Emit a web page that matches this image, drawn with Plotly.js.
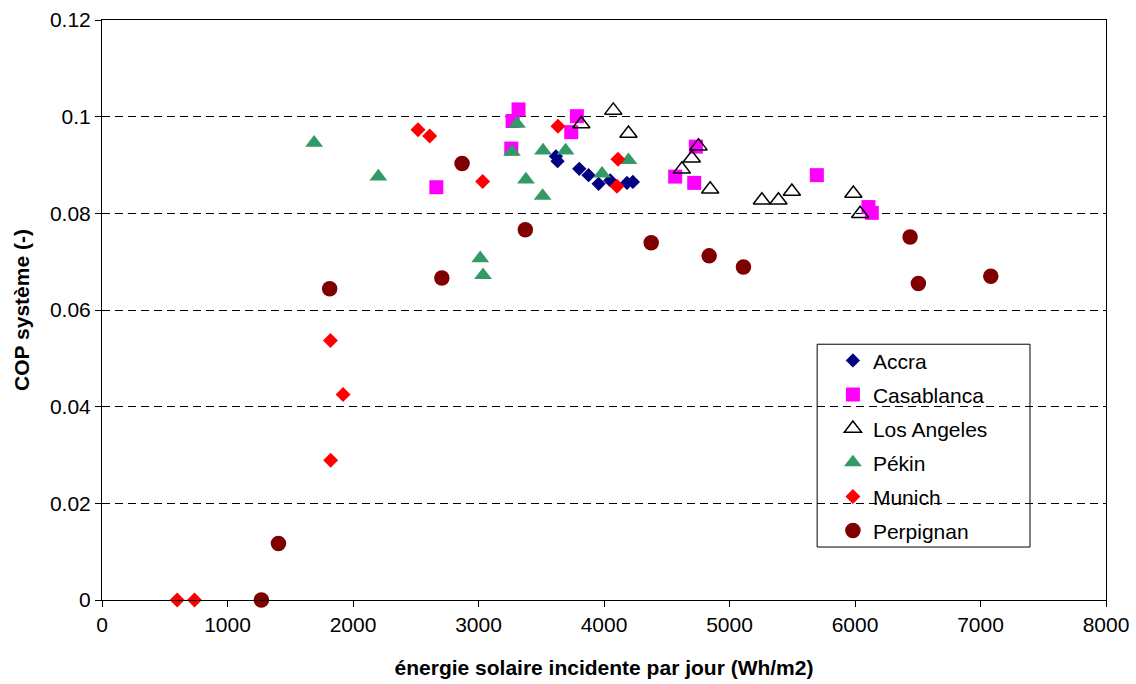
<!DOCTYPE html>
<html>
<head>
<meta charset="utf-8">
<script src="https://cdn.plot.ly/plotly-3.0.1.min.js"></script>
<style>html,body{margin:0;padding:0;background:#fff;}#chart{width:1136px;height:684px;}</style>
</head>
<body>
<div id="chart"></div>
<script>
// Data
const accraX = [3617, 3630, 3803, 3877, 3957, 4050, 4183, 4230];
const accraY = [0.0918, 0.0908, 0.0892, 0.0879, 0.0861, 0.0868, 0.0863, 0.0865];

const casaX = [2664, 3319, 3272, 3261, 3784, 3739, 4567, 4719, 4732, 5696, 6107, 6134];
const casaY = [0.0854, 0.1015, 0.0991, 0.0934, 0.1001, 0.0968, 0.0876, 0.0863, 0.0938, 0.0879, 0.0813, 0.0801];

const laX = [4074, 3819, 4195, 4621, 4700, 4753, 4846, 5258, 5390, 5497, 5987, 6041];
const laY = [0.1013, 0.0985, 0.0965, 0.0891, 0.0914, 0.0939, 0.0850, 0.0827, 0.0827, 0.0845, 0.0841, 0.0799];

const pekinX = [1690, 2202, 3014, 3036, 3267, 3307, 3378, 3511, 3514, 3694, 3984, 4195];
const pekinY = [0.0946, 0.0876, 0.0707, 0.0672, 0.0927, 0.0985, 0.0870, 0.0836, 0.0930, 0.0930, 0.0882, 0.0910];

const munichX = [2518, 2611, 3033, 3633, 4111, 4103, 1820, 1921, 1822, 599, 737];
const munichY = [0.0973, 0.0960, 0.0866, 0.0980, 0.0912, 0.0856, 0.0537, 0.0425, 0.0289, 0.0, 0.0];

const perpX = [1270, 1406, 1814, 2708, 2869, 3373, 4376, 4838, 5111, 6439, 6505, 7082];
const perpY = [0.0, 0.0117, 0.0644, 0.0666, 0.0903, 0.0766, 0.0739, 0.0712, 0.0689, 0.0751, 0.0655, 0.0670];

const seriesNames = ["Accra", "Casablanca", "Los Angeles", "Pékin", "Munich", "Perpignan"];
const xTickVals = [0, 1000, 2000, 3000, 4000, 5000, 6000, 7000, 8000];
const yTickVals = [0, 0.02, 0.04, 0.06, 0.08, 0.1, 0.12];

const FONT = "Liberation Sans, Arial, sans-serif";

function tr(name, x, y, marker, i) {
  return {
    type: "scatter", mode: "markers", name: name, x: x, y: y,
    marker: marker, legendgroup: "g" + i, cliponaxis: false, hoverinfo: "x+y+name"
  };
}

const data = [
  tr(seriesNames[0], accraX, accraY, {symbol: "diamond", size: 11, color: "#000080", line: {width: 0}}, 0),
  tr(seriesNames[1], casaX, casaY, {symbol: "square", size: 14, color: "#FF00FF", line: {width: 0}}, 1),
  tr(seriesNames[2], laX, laY, {symbol: "triangle-up-open", size: 15, color: "#000000", line: {width: 1.5, color: "#000000"}}, 2),
  tr(seriesNames[3], pekinX, pekinY, {symbol: "triangle-up", size: 15.5, color: "#339966", line: {width: 0}}, 3),
  tr(seriesNames[4], munichX, munichY, {symbol: "diamond", size: 11.5, color: "#FF0000", line: {width: 0}}, 4),
  tr(seriesNames[5], perpX, perpY, {symbol: "circle", size: 15.5, color: "#800000", line: {width: 0}}, 5)
];

const layout = {
  width: 1136, height: 684,
  paper_bgcolor: "#ffffff", plot_bgcolor: "#ffffff",
  margin: {l: 101.5, r: 30, t: 19.5, b: 84, pad: 0},
  font: {family: FONT, size: 21, color: "#000"},
  showlegend: true,
  xaxis: {
    range: [0, 8000], tickvals: xTickVals, ticktext: xTickVals.map(String),
    ticks: "outside", ticklen: 6, tickwidth: 1, tickcolor: "#000",
    showline: true, linecolor: "#000", linewidth: 1, mirror: true,
    showgrid: false, zeroline: false,
    tickfont: {family: FONT, size: 21, color: "#000"},
    title: {text: "<b>énergie solaire incidente par jour (Wh/m2)</b>", font: {family: FONT, size: 21, color: "#000"}, standoff: 25},
    automargin: false, fixedrange: true
  },
  yaxis: {
    range: [0, 0.12], tickvals: yTickVals, ticktext: ["0", "0.02", "0.04", "0.06", "0.08", "0.1", "0.12"],
    ticks: "outside", ticklen: 6, tickwidth: 1, tickcolor: "#000",
    showline: true, linecolor: "#000", linewidth: 1, mirror: true,
    showgrid: true, gridcolor: "#000", gridwidth: 1, griddash: "8px,5px",
    zeroline: false,
    tickfont: {family: FONT, size: 21, color: "#000"},
    title: {text: "<b>COP système (-)</b>", font: {family: FONT, size: 21, color: "#000"}, standoff: 14},
    automargin: false, fixedrange: true
  },
  legend: {
    x: 0.728, y: 0.4478, xanchor: "left", yanchor: "top",
    bgcolor: "rgba(0,0,0,0)", borderwidth: 0,
    font: {family: FONT, size: 21, color: "#000"},
    traceorder: "grouped", tracegroupgap: 3.7, itemsizing: "trace"
  },
  shapes: [{
    type: "rect", xref: "paper", yref: "paper", layer: "between",
    x0: 0.7123, x1: 0.9243, y0: 0.0913, y1: 0.441,
    line: {color: "#000", width: 1}, fillcolor: "#ffffff"
  }]
};

Plotly.newPlot("chart", data, layout, {staticPlot: true});
</script>
</body>
</html>
